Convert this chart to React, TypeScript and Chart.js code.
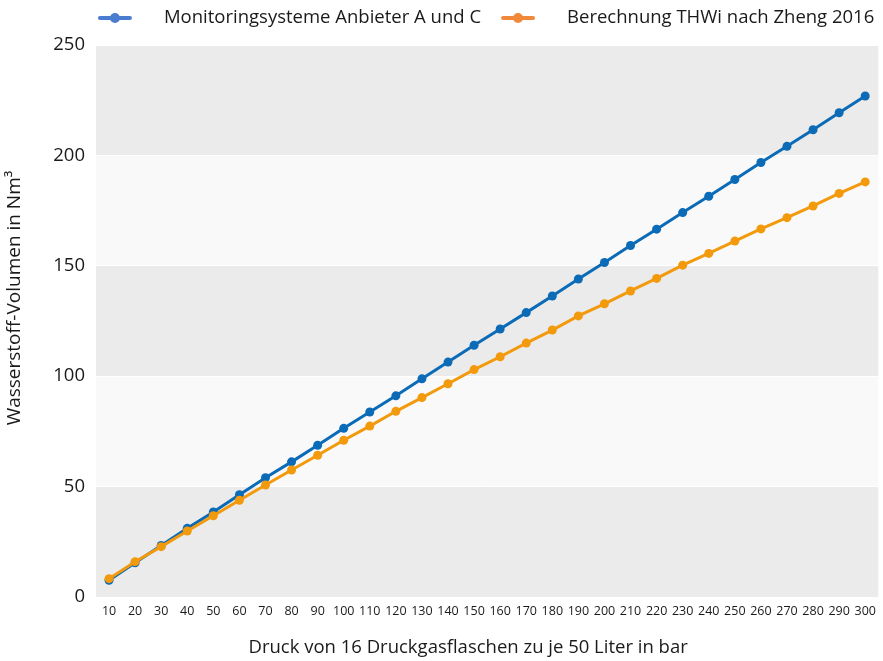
import { useEffect, useRef } from "react";
import { Chart, registerables } from "chart.js";

Chart.register(...registerables);

const pressures = [10, 20, 30, 40, 50, 60, 70, 80, 90, 100, 110, 120, 130, 140, 150, 160, 170, 180, 190, 200, 210, 220, 230, 240, 250, 260, 270, 280, 290, 300];
const xLabels = pressures.map(String);
const monitoringValues = [7.6, 15.5, 23.3, 31.1, 38.5, 46.3, 54.0, 61.2, 68.7, 76.4, 83.8, 91.1, 98.8, 106.4, 114.0, 121.4, 128.8, 136.3, 144.0, 151.5, 159.2, 166.6, 174.1, 181.5, 189.1, 196.8, 204.1, 211.6, 219.3, 226.9];
const zhengValues = [8.3, 16.0, 22.8, 29.9, 36.8, 43.8, 50.7, 57.5, 64.2, 71.0, 77.4, 84.1, 90.3, 96.6, 103.0, 108.8, 115.0, 120.9, 127.3, 132.8, 138.6, 144.3, 150.3, 155.6, 161.2, 166.7, 171.8, 177.1, 182.8, 188.0];
const seriesNames = ["Monitoringsysteme Anbieter A und C", "Berechnung THWi nach Zheng 2016"];
const yTicks = [0, 50, 100, 150, 200, 250];
const xTitle = "Druck von 16 Druckgasflaschen zu je 50 Liter in bar";
const yTitle = "Wasserstoff-Volumen in Nm³";

const FONT = "'Open Sans', Lato, sans-serif";
const TEXT_COLOR = "#1a1a1a";
const LINE_COLORS = ["#0b6bb7", "#f39a0c"];
const LEGEND_COLORS = ["#4a7ccf", "#f08a3a"];

const bandsPlugin = {
  id: "bands",
  beforeDraw(chart: any) {
    const { ctx, chartArea, scales } = chart;
    const y = scales.y;
    ctx.save();
    for (let i = 0; i < yTicks.length - 1; i++) {
      const top = y.getPixelForValue(yTicks[i + 1]);
      const bottom = y.getPixelForValue(yTicks[i]);
      ctx.fillStyle = i % 2 === 0 ? "#ebebeb" : "#f9f9f9";
      ctx.fillRect(chartArea.left, top, chartArea.right - chartArea.left, bottom - top);
    }
    ctx.restore();
  },
};

const titlesPlugin = {
  id: "axisTitles",
  afterDraw(chart: any) {
    const { ctx, chartArea } = chart;
    ctx.save();
    ctx.fillStyle = TEXT_COLOR;
    ctx.textAlign = "center";
    ctx.textBaseline = "middle";
    ctx.font = `18.5px ${FONT}`;
    ctx.fillText(xTitle, (chartArea.left + chartArea.right) / 2 - 19, chart.height - 13);
    ctx.font = `19px ${FONT}`;
    ctx.translate(15, (chartArea.top + chartArea.bottom) / 2 - 23);
    ctx.rotate(-Math.PI / 2);
    ctx.fillText(yTitle, 0, 0);
    ctx.restore();
  },
};

const legendPlugin = {
  id: "customLegend",
  afterDraw(chart: any) {
    const { ctx, chartArea } = chart;
    ctx.save();
    ctx.font = `18.5px ${FONT}`;
    const markerW = 30;
    const gap = 34;
    const itemGap = 22;
    const widths = seriesNames.map((n) => ctx.measureText(n).width);
    const total = widths.reduce((a, b) => a + b, 0) + 2 * (markerW + gap) + itemGap;
    let x = (chartArea.left + chartArea.right) / 2 - total / 2;
    const y = 18;
    seriesNames.forEach((name, i) => {
      ctx.strokeStyle = LEGEND_COLORS[i];
      ctx.lineWidth = 4;
      ctx.lineCap = "round";
      ctx.beginPath();
      ctx.moveTo(x, y);
      ctx.lineTo(x + markerW, y);
      ctx.stroke();
      ctx.fillStyle = LEGEND_COLORS[i];
      ctx.beginPath();
      ctx.arc(x + markerW / 2, y, 5, 0, Math.PI * 2);
      ctx.fill();
      x += markerW + gap;
      ctx.fillStyle = TEXT_COLOR;
      ctx.textBaseline = "middle";
      ctx.textAlign = "left";
      ctx.fillText(name, x, y);
      x += widths[i] + itemGap;
    });
    ctx.restore();
  },
};

export default function App() {
  const canvasRef = useRef<HTMLCanvasElement | null>(null);

  useEffect(() => {
    if (!canvasRef.current) return;
    const chart = new Chart(canvasRef.current, {
      type: "line",
      data: {
        labels: xLabels,
        datasets: [
          {
            label: seriesNames[0],
            data: monitoringValues,
            borderColor: LINE_COLORS[0],
            backgroundColor: LINE_COLORS[0],
            borderWidth: 3,
            pointRadius: 4.5,
            pointHoverRadius: 4.5,
            pointBorderWidth: 0,
            order: 1,
          },
          {
            label: seriesNames[1],
            data: zhengValues,
            borderColor: LINE_COLORS[1],
            backgroundColor: LINE_COLORS[1],
            borderWidth: 3,
            pointRadius: 4.5,
            pointHoverRadius: 4.5,
            pointBorderWidth: 0,
            order: 0,
          },
        ],
      },
      options: {
        animation: false,
        responsive: true,
        maintainAspectRatio: false,
        layout: { padding: { top: 45, right: 0, left: 0, bottom: 0 } },
        plugins: {
          legend: { display: false },
          tooltip: { enabled: false },
        },
        scales: {
          x: {
            type: "category",
            offset: true,
            grid: { display: false, drawTicks: false },
            border: { display: false },
            ticks: {
              autoSkip: false,
              maxRotation: 0,
              minRotation: 0,
              padding: 7,
              color: TEXT_COLOR,
              font: { family: FONT, size: 12.5 },
            },
            title: { display: false, text: xTitle },
            afterFit(scale: any) {
              scale.height = 64;
            },
          },
          y: {
            min: 0,
            max: 250,
            afterBuildTicks(scale: any) {
              scale.ticks = yTicks.map((v) => ({ value: v }));
            },
            grid: { color: "#ffffff", lineWidth: 1, drawTicks: false },
            border: { display: false },
            ticks: {
              padding: 11,
              color: TEXT_COLOR,
              font: { family: FONT, size: 18.5 },
            },
            title: { display: false, text: yTitle },
            afterFit(scale: any) {
              scale.width = 96;
            },
          },
        },
      },
      plugins: [bandsPlugin, titlesPlugin, legendPlugin],
    });
    return () => chart.destroy();
  }, []);

  return (
    <div style={{ position: "fixed", left: 0, top: 0, width: 883, height: 661, background: "#ffffff" }}>
      <canvas ref={canvasRef} />
    </div>
  );
}
